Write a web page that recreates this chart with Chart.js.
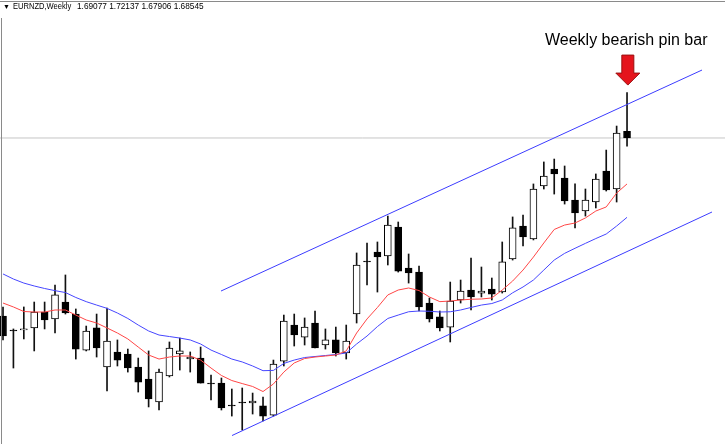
<!DOCTYPE html>
<html><head><meta charset="utf-8">
<script src="https://cdn.jsdelivr.net/npm/chart.js@4.4.1/dist/chart.umd.min.js"></script>
<style>
html,body{margin:0;padding:0;background:#fff;overflow:hidden}
#wrap{position:relative;width:725px;height:444px}
canvas{position:absolute;left:0;top:0}
.hdr{position:absolute;font-family:"Liberation Sans",Arial,sans-serif;font-size:9px;color:#000;white-space:nowrap;line-height:1;transform-origin:0 0}
</style></head><body>
<div id="wrap">
<canvas id="c" width="725" height="444"></canvas>
<div style="position:absolute;left:0;top:1px;width:725px;height:1px;background:#8a8a8a"></div>
<div style="position:absolute;left:1px;top:18px;width:1px;height:426px;background:#8a8a8a"></div>
<div class="hdr" style="left:3px;top:3px;font-size:7px">&#9660;</div>
<div class="hdr" id="hName" style="left:13px;top:2px;transform:scaleX(0.84)"></div>
<div class="hdr" id="hVals" style="left:77px;top:2px;transform:scaleX(0.92)"></div>
<div id="note" style="position:absolute;left:545px;top:31px;font:16px 'Liberation Sans',Arial,sans-serif;color:#000;white-space:nowrap"></div>
</div>
<script>
const symbol = 'EURNZD';
const timeframe = 'Weekly';
const noteText = 'Weekly bearish pin bar';

const open = [1.5446,1.5336,1.5336,1.5352,1.5478,1.5423,1.5557,1.5462,1.5177,1.5352,
1.5043,1.5162,1.5146,1.5043,1.4948,1.4766,1.4972,1.5146,1.5106,1.5114,
1.4916,1.4916,1.4742,1.4766,1.4758,1.4735,1.4663,1.5090,1.5375,1.5280,
1.5391,1.5217,1.5257,1.5154,1.5462,1.5881,1.5953,1.5921,1.6150,1.5826,
1.5794,1.5549,1.5439,1.5359,1.5573,1.5652,1.5628,1.5660,1.5636,1.5897,
1.6158,1.6056,1.6475,1.6609,1.6538,1.6364,1.6277,1.6348,1.6593,1.6451,
1.69077];
const high = [1.5518,1.5344,1.5518,1.5557,1.5557,1.5692,1.5771,1.5502,1.5367,1.5462,
1.5510,1.5257,1.5185,1.5114,1.5170,1.5027,1.5241,1.5272,1.5162,1.5201,
1.4980,1.4956,1.4869,1.4877,1.4837,1.4806,1.5098,1.5454,1.5462,1.5431,
1.5486,1.5344,1.5359,1.5375,1.5945,1.6024,1.6032,1.6237,1.6190,1.5937,
1.5842,1.5589,1.5486,1.5715,1.5731,1.5905,1.5834,1.5747,1.6032,1.6230,
1.6245,1.6491,1.6665,1.6688,1.6633,1.6491,1.6451,1.6570,1.6759,1.6949,
1.72137];
const low = [1.5257,1.5035,1.5265,1.5170,1.5344,1.5312,1.5462,1.5106,1.5170,1.5122,
1.4853,1.5051,1.5003,1.4845,1.4727,1.4703,1.4964,1.5019,1.5003,1.4916,
1.4782,1.4703,1.4655,1.4545,1.4671,1.4616,1.4655,1.5051,1.5209,1.5217,
1.5193,1.5185,1.5130,1.5106,1.5391,1.5692,1.5636,1.5850,1.5794,1.5707,
1.5486,1.5399,1.5328,1.5241,1.5549,1.5494,1.5597,1.5573,1.5628,1.5889,
1.6000,1.6048,1.6451,1.6411,1.6332,1.6143,1.6237,1.6301,1.6435,1.6348,
1.67906];
const close = [1.5288,1.5328,1.5344,1.5478,1.5415,1.5613,1.5470,1.5185,1.5328,1.5193,
1.5249,1.5098,1.5035,1.4924,1.4790,1.5003,1.5193,1.5170,1.5122,1.4916,
1.4909,1.4719,1.4735,1.4758,1.4774,1.4655,1.5067,1.5407,1.5296,1.5359,
1.5193,1.5257,1.5154,1.5249,1.5850,1.5874,1.5913,1.6166,1.5802,1.5787,
1.5518,1.5423,1.5352,1.5565,1.5644,1.5597,1.5644,1.5620,1.5874,1.6143,
1.6071,1.6451,1.6554,1.6570,1.6356,1.6261,1.6364,1.6530,1.6443,1.6894,
1.68545];
const maFast = [1.5549,1.5518,1.5482,1.5478,1.5478,1.5494,1.5494,1.5454,1.5415,1.5391,
1.5352,1.5312,1.5265,1.5201,1.5138,1.5106,1.5122,1.5130,1.5130,1.5098,
1.5035,1.4976,1.4936,1.4912,1.4889,1.4849,1.4909,1.5003,1.5075,1.5110,
1.5122,1.5130,1.5138,1.5170,1.5312,1.5423,1.5514,1.5613,1.5652,1.5668,
1.5648,1.5597,1.5560,1.5565,1.5573,1.5579,1.5581,1.5589,1.5652,1.5723,
1.5810,1.5913,1.6024,1.6131,1.6166,1.6182,1.6222,1.6277,1.6309,1.6419,
1.6491];
const maSlow = [1.5779,1.5739,1.5707,1.5684,1.5664,1.5647,1.5632,1.5593,1.5560,1.5533,
1.5507,1.5470,1.5427,1.5375,1.5328,1.5296,1.5284,1.5272,1.5257,1.5225,
1.5177,1.5142,1.5106,1.5083,1.5051,1.5014,1.5016,1.5071,1.5098,1.5118,
1.5126,1.5134,1.5142,1.5154,1.5225,1.5288,1.5363,1.5427,1.5454,1.5480,
1.5486,1.5484,1.5478,1.5480,1.5494,1.5514,1.5533,1.5545,1.5573,1.5630,
1.5676,1.5731,1.5810,1.5889,1.5942,1.5982,1.6021,1.6059,1.6095,1.6158,
1.6227];
// channel lines: [week index, price]
const channelUpper = [[20.96,1.5644],[67.21,1.7392]];
const channelLower = [[22.02,1.4501],[68.17,1.6269]];
const pinBarIndex = 60;

const weeks = open.map((_, i) => i);
const X_MIN = -0.29, X_MAX = 69.42, Y_MIN = 1.4434, Y_MAX = 1.7946;
const last = open.length - 1;

document.getElementById('hName').textContent = symbol + ',' + timeframe;
document.getElementById('hVals').textContent = [open[last], high[last], low[last], close[last]].map(v => v.toFixed(5)).join(' ');
document.getElementById('note').textContent = noteText;

const wickData = weeks.map(i => ({x: i, y: [low[i], high[i]]}));
const bodyData = weeks.map(i => ({x: i, y: [open[i], close[i]]}));
const bodyFill = weeks.map(i => close[i] >= open[i] ? '#ffffff' : '#000000');
const toXY = arr => arr.map(p => ({x: p[0], y: p[1]}));

const arrowPlugin = {
  id: 'arrow',
  afterDatasetsDraw(chart) {
    const ctx = chart.ctx;
    const xs = chart.scales.x, ys = chart.scales.y;
    const cx = xs.getPixelForValue(pinBarIndex) + 0.8;
    const tip = ys.getPixelForValue(high[pinBarIndex]) - 7.5;
    ctx.save();
    ctx.beginPath();
    ctx.moveTo(cx, tip);
    ctx.lineTo(cx - 12, tip - 12);
    ctx.lineTo(cx - 6, tip - 12);
    ctx.lineTo(cx - 6, tip - 30);
    ctx.lineTo(cx + 6, tip - 30);
    ctx.lineTo(cx + 6, tip - 12);
    ctx.lineTo(cx + 12, tip - 12);
    ctx.closePath();
    ctx.fillStyle = '#e5141c';
    ctx.fill();
    ctx.strokeStyle = '#9a1010';
    ctx.lineWidth = 1;
    ctx.stroke();
    ctx.restore();
  }
};

new Chart(document.getElementById('c'), {
  type: 'bar',
  data: {
    datasets: [
      {type: 'line', data: [{x: X_MIN, y: close[last]}, {x: X_MAX, y: close[last]}], borderColor: '#c6c6c6', borderWidth: 1, pointRadius: 0, order: 5},
      {type: 'bar', data: wickData, backgroundColor: '#111', borderWidth: 0, barThickness: 1, grouped: false, order: 3},
      {type: 'bar', data: bodyData, backgroundColor: bodyFill, borderColor: '#000', borderWidth: 1, borderSkipped: false, barThickness: 7, grouped: false, order: 2},
      {type: 'line', data: weeks.map(i => ({x: i, y: maFast[i]})), borderColor: 'rgb(255,70,70)', borderWidth: 1, pointRadius: 0, tension: 0, order: 1},
      {type: 'line', data: weeks.map(i => ({x: i, y: maSlow[i]})), borderColor: 'rgb(70,70,255)', borderWidth: 1, pointRadius: 0, tension: 0, order: 1},
      {type: 'line', data: toXY(channelUpper), borderColor: 'rgb(60,60,255)', borderWidth: 1, pointRadius: 0, order: 1},
      {type: 'line', data: toXY(channelLower), borderColor: 'rgb(60,60,255)', borderWidth: 1, pointRadius: 0, order: 1}
    ]
  },
  options: {
    responsive: false,
    animation: false,
    devicePixelRatio: 1,
    layout: {padding: 0},
    plugins: {legend: {display: false}, tooltip: {enabled: false}, title: {display: false}},
    scales: {
      x: {type: 'linear', min: X_MIN, max: X_MAX, display: false, offset: false},
      y: {type: 'linear', min: Y_MIN, max: Y_MAX, display: false, beginAtZero: false}
    }
  },
  plugins: [arrowPlugin]
});
</script>
</body></html>
